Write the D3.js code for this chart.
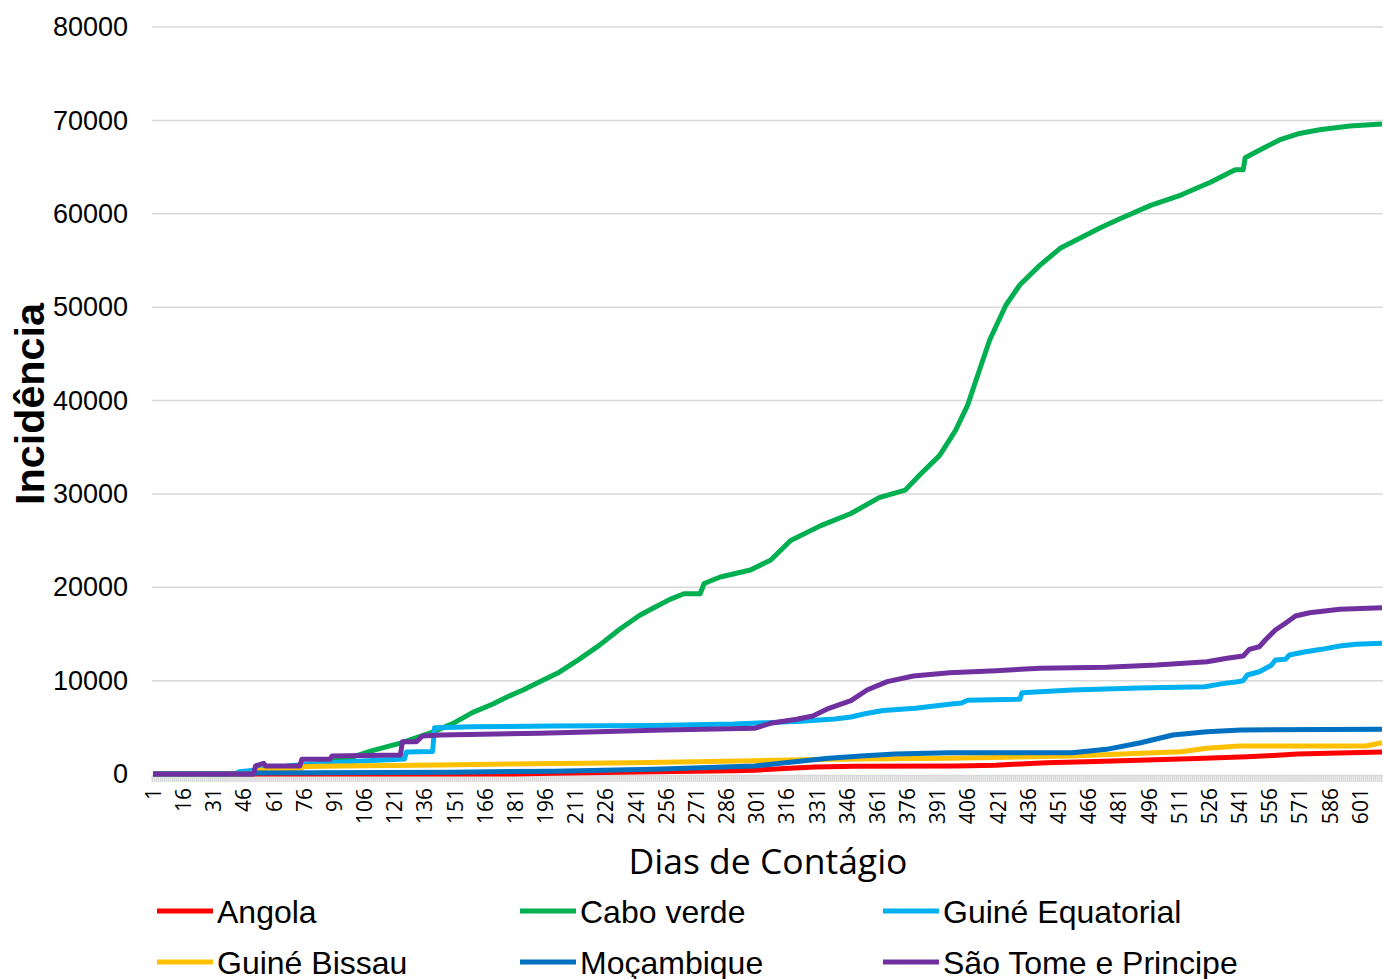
<!DOCTYPE html>
<html>
<head>
<meta charset="utf-8">
<script src="https://cdn.jsdelivr.net/npm/d3@7/dist/d3.min.js"></script>
<style>
  body { margin: 0; background: #fff; }
  svg { display: block; }
</style>
</head>
<body>
<div id="chart"></div>
<script>
// values as [day, cases]
var angola = [[1,0],[180,0],[200,80],[250,250],[290,350],[300,400],[315,600],[330,750],[350,830],[400,860],[420,950],[445,1200],[470,1350],[495,1500],[520,1650],[545,1850],[560,2000],[570,2140],[585,2230],[596,2280],[612,2360]];
var caboVerde = [[1,0],[40,0],[45,150],[55,400],[70,700],[85,1000],[92,1500],[100,1800],[110,2500],[124,3300],[139,4400],[150,5400],[160,6600],[170,7500],[177,8250],[185,9000],[193,9850],[203,10900],[213,12300],[223,13800],[233,15500],[243,17000],[250,17800],[258,18700],[265,19300],[273,19300],[275,20400],[283,21100],[298,21850],[308,22900],[318,25000],[333,26600],[348,27900],[362,29600],[375,30400],[382,32000],[392,34100],[400,36800],[406,39500],[411,42700],[417,46500],[425,50200],[432,52400],[442,54500],[452,56300],[462,57400],[472,58500],[482,59500],[497,60900],[512,62000],[527,63400],[537,64500],[539,64700],[543,64700],[544,66000],[551,66800],[561,67900],[571,68600],[581,69000],[596,69400],[612,69600]];
var guineEquatorial = [[1,0],[42,0],[44,250],[55,500],[70,900],[90,1200],[110,1450],[126,1600],[127,2350],[140,2400],[141,4950],[160,5050],[200,5150],[250,5200],[290,5350],[306,5500],[323,5650],[340,5900],[348,6100],[355,6450],[364,6800],[380,7050],[398,7500],[403,7600],[406,7900],[432,8000],[433,8700],[458,9000],[491,9200],[524,9350],[532,9650],[541,9900],[543,10000],[545,10600],[551,10950],[557,11650],[559,12200],[564,12300],[566,12750],[574,13100],[582,13350],[591,13700],[599,13900],[612,14000]];
var guineBissau = [[1,0],[50,0],[52,400],[74,500],[76,800],[94,860],[144,960],[190,1100],[240,1200],[300,1420],[338,1570],[398,1680],[458,1930],[492,2210],[512,2390],[525,2750],[541,3000],[604,3000],[612,3350]];
var mocambique = [[1,0],[50,0],[52,100],[150,200],[200,300],[250,500],[300,850],[320,1320],[337,1680],[353,1930],[370,2140],[397,2280],[458,2280],[475,2640],[492,3350],[508,4180],[525,4530],[542,4710],[612,4790]];
var saoTome = [[1,0],[51,0],[52,860],[56,1140],[57,860],[74,860],[75,1570],[89,1570],[90,1930],[124,2030],[125,3460],[132,3460],[135,4070],[144,4180],[193,4360],[222,4530],[255,4710],[300,4890],[308,5430],[321,5860],[329,6210],[337,7030],[348,7850],[356,9000],[366,9890],[379,10500],[397,10850],[420,11060],[442,11320],[475,11430],[500,11670],[525,12030],[535,12390],[543,12640],[546,13350],[551,13630],[554,14350],[559,15420],[564,16140],[569,16920],[576,17270],[591,17640],[612,17810]];

var seriesNames = ["Angola", "Cabo verde", "Guiné Equatorial", "Guiné Bissau", "Moçambique", "São Tome e Principe"];
var seriesColors = ["#ff0000", "#00b050", "#00b0f0", "#ffc000", "#0070c0", "#7030a0"];
var seriesData = [angola, caboVerde, guineEquatorial, guineBissau, mocambique, saoTome];

var yTicks = [0, 10000, 20000, 30000, 40000, 50000, 60000, 70000, 80000];
var xTickLabels = d3.range(1, 612, 15); // 1, 16, 31 ... 601 (category labels)
var nDays = 612;

var width = 1383, height = 979;
var margin = { top: 27, right: 0, bottom: 205, left: 152 };

var svg = d3.select("#chart").append("svg")
  .attr("width", width)
  .attr("height", height);

var xScale = d3.scaleLinear()
  .domain([0.5, nDays + 0.5])
  .range([margin.left, width - margin.right]);

var yScale = d3.scaleLinear()
  .domain([0, 80000])
  .range([height - margin.bottom, margin.top]);

// gridlines
svg.append("g")
  .selectAll("line")
  .data(yTicks.slice(1))
  .enter()
  .append("line")
  .attr("x1", xScale.range()[0])
  .attr("x2", xScale.range()[1])
  .attr("y1", function(d) { return yScale(d); })
  .attr("y2", function(d) { return yScale(d); })
  .attr("stroke", "#d9d9d9")
  .attr("stroke-width", 1.5);

// Y axis labels
var yAxis = d3.axisLeft(yScale)
  .tickValues(yTicks)
  .tickSize(0)
  .tickPadding(24)
  .tickFormat(d3.format("d"));

svg.append("g")
  .attr("class", "y axis")
  .attr("transform", "translate(" + margin.left + ",0)")
  .call(yAxis)
  .call(function(g) { g.select(".domain").remove(); })
  .selectAll("text")
  .attr("font-family", "Liberation Sans, Arial, sans-serif")
  .attr("font-size", "27px")
  .attr("fill", "#000");

// X axis: a tick for every day forms the grey band, labels every 15 days
var xAxisBand = d3.axisBottom(xScale)
  .tickValues(d3.range(0.5, nDays + 1, 1))
  .tickSize(7)
  .tickFormat("");

var band = svg.append("g")
  .attr("transform", "translate(0," + (yScale(0) + 1) + ")")
  .call(xAxisBand);
band.select(".domain").attr("stroke", "#d9d9d9").attr("stroke-width", 1.5);
band.selectAll(".tick line").attr("stroke", "#d9d9d9").attr("stroke-width", 1.6);

var xAxis = d3.axisBottom(xScale)
  .tickValues(xTickLabels)
  .tickSize(0)
  .tickFormat(d3.format("d"));

var xg = svg.append("g")
  .attr("class", "x axis")
  .attr("transform", "translate(0," + (yScale(0) + 12) + ")")
  .call(xAxis);
xg.select(".domain").remove();
xg.selectAll("text")
  .attr("font-family", "Open Sans, sans-serif")
  .attr("font-size", "21px")
  .attr("fill", "#000")
  .attr("text-anchor", "end")
  .attr("transform", "rotate(-90)")
  .attr("x", 0)
  .attr("y", 0)
  .attr("dx", "-0.1em")
  .attr("dy", "0.35em");

// lines
var line = d3.line()
  .x(function(d) { return xScale(d[0]); })
  .y(function(d) { return yScale(d[1]); });

svg.append("g")
  .selectAll("path")
  .data(seriesData)
  .enter()
  .append("path")
  .attr("d", line)
  .attr("fill", "none")
  .attr("stroke", function(d, i) { return seriesColors[i]; })
  .attr("stroke-width", 5)
  .attr("stroke-linejoin", "round");

// axis titles
svg.append("text")
  .attr("transform", "translate(44,404) rotate(-90)")
  .attr("text-anchor", "middle")
  .attr("font-family", "Liberation Sans, Arial, sans-serif")
  .attr("font-weight", "bold")
  .attr("font-size", "40px")
  .attr("textLength", 202)
  .attr("lengthAdjust", "spacingAndGlyphs")
  .text("Incidência");

svg.append("text")
  .attr("x", 768)
  .attr("y", 874)
  .attr("text-anchor", "middle")
  .attr("font-family", "Open Sans, sans-serif")
  .attr("font-size", "35.5px")
  .text("Dias de Contágio");

// legend
var legendX = [157, 520, 883];
var legendY = [911, 962];

var legend = svg.append("g").attr("class", "legend");
var items = legend.selectAll("g")
  .data(seriesNames)
  .enter()
  .append("g")
  .attr("transform", function(d, i) {
    return "translate(" + legendX[i % 3] + "," + legendY[Math.floor(i / 3)] + ")";
  });

items.append("line")
  .attr("x1", 0)
  .attr("x2", 56)
  .attr("stroke", function(d, i) { return seriesColors[i]; })
  .attr("stroke-width", 5);

items.append("text")
  .attr("x", 60)
  .attr("dy", "0.36em")
  .attr("font-family", "Liberation Sans, Arial, sans-serif")
  .attr("font-size", "32px")
  .text(function(d) { return d; });
</script>
</body>
</html>
